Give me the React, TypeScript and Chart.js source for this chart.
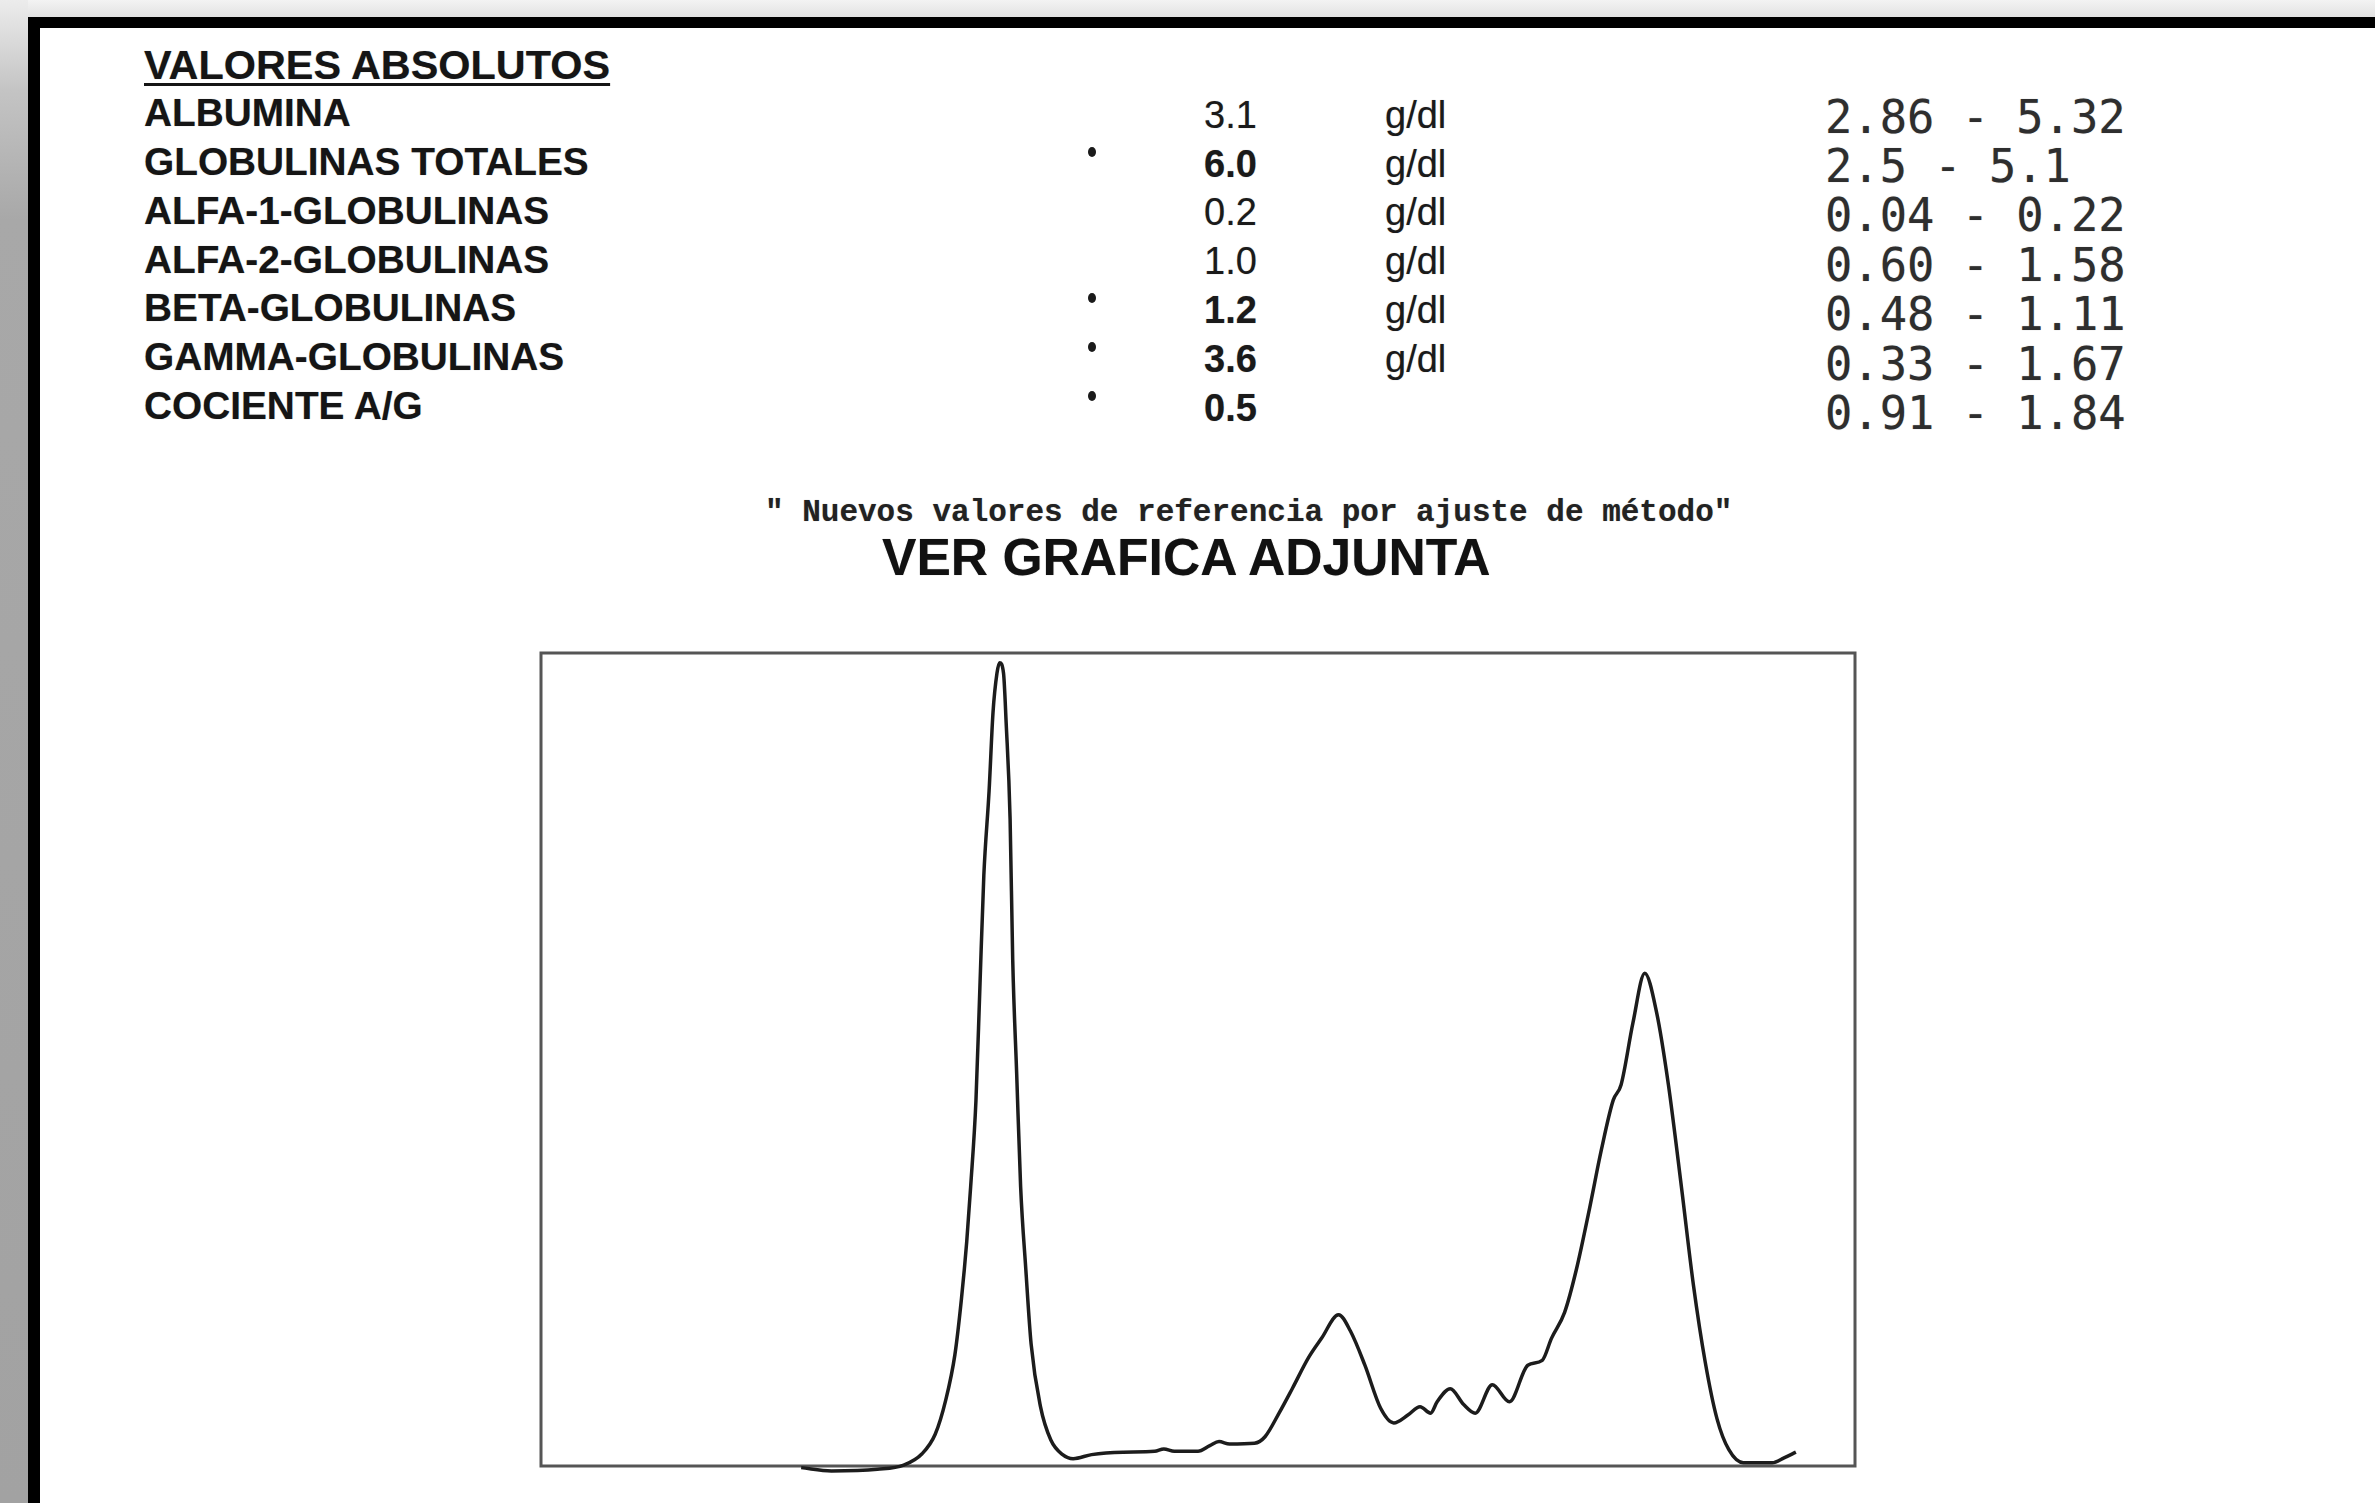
import React, { useEffect, useRef } from "react";
import { Chart, registerables } from "chart.js";

Chart.register(...registerables);

// ---- Report table ----
const analytes = [
  "ALBUMINA",
  "GLOBULINAS TOTALES",
  "ALFA-1-GLOBULINAS",
  "ALFA-2-GLOBULINAS",
  "BETA-GLOBULINAS",
  "GAMMA-GLOBULINAS",
  "COCIENTE A/G",
];
const results = ["3.1", "6.0", "0.2", "1.0", "1.2", "3.6", "0.5"];
const flagged = [false, true, false, false, true, true, true];
const units = ["g/dl", "g/dl", "g/dl", "g/dl", "g/dl", "g/dl", ""];
const referenceRanges = [
  "2.86 - 5.32",
  "2.5 - 5.1",
  "0.04 - 0.22",
  "0.60 - 1.58",
  "0.48 - 1.11",
  "0.33 - 1.67",
  "0.91 - 1.84",
];

// ---- Electrophoresis trace (mobility 0-100, intensity 0-100) ----
const mobility = [
  19.8, 22.1, 25.6, 27.6, 29.0, 30.0, 30.8, 31.5, 32.0, 32.4, 32.7, 33.1, 33.4,
  33.7, 34.1, 34.4, 34.7, 34.9, 35.2, 35.4, 35.7, 35.9, 36.2, 36.5, 36.9, 37.3,
  38.0, 38.8, 39.7, 40.5, 41.9, 44.3, 46.7, 47.4, 48.2, 50.0, 50.9, 51.6, 52.4,
  54.3, 55.1, 56.2, 57.2, 58.4, 59.4, 60.7, 61.6, 62.7, 63.9, 64.9, 66.0, 66.9,
  67.7, 68.2, 69.2, 70.2, 71.1, 72.4, 73.7, 75.1, 76.2, 76.9, 77.9, 78.8, 79.8,
  80.7, 81.6, 82.2, 83.1, 84.0, 84.9, 85.8, 86.8, 87.7, 88.6, 89.5, 90.4, 91.5,
  93.7, 94.6, 95.5,
];
const intensity = [
  -0.2, -0.6, -0.4, 0.1, 1.5, 3.9, 8.1, 13.7, 20.6, 27.6, 34.4, 44.9, 58.8,
  72.6, 83.0, 92.7, 97.5, 98.8, 97.5, 91.4, 79.6, 62.2, 48.3, 34.4, 24.1, 15.0,
  7.4, 3.2, 1.4, 0.9, 1.4, 1.7, 1.8, 2.1, 1.8, 1.8, 2.5, 3.0, 2.7,
  2.8, 3.6, 6.6, 9.6, 13.3, 15.7, 18.6, 16.6, 12.4, 7.1, 5.3, 6.3, 7.3,
  6.5, 7.9, 9.5, 7.6, 6.5, 10.0, 7.9, 12.4, 13.0, 15.7, 18.9, 24.2, 31.7,
  38.9, 45.0, 46.9, 54.5, 60.6, 55.8, 46.9, 34.2, 22.3, 12.8, 5.8, 2.0, 0.4,
  0.4, 1.0, 1.7,
];

const framePlugin = {
  id: "frame",
  beforeDatasetsDraw(chart: any) {
    const { ctx, chartArea } = chart;
    const { left, top, right, bottom } = chartArea;
    ctx.save();
    ctx.strokeStyle = "#555";
    ctx.lineWidth = 3;
    ctx.strokeRect(left, top, right - left, bottom - top);
    ctx.restore();
  },
};

const LABEL_BASE = 127;
const LABEL_STEP = 48.8;
const RANGE_BASE = 133;
const RANGE_STEP = 49.4;

export default function App() {
  const canvasRef = useRef<HTMLCanvasElement | null>(null);

  useEffect(() => {
    document.body.style.margin = "0";
    const canvas = canvasRef.current;
    if (!canvas) return;
    const chart = new Chart(canvas, {
      type: "line",
      data: {
        datasets: [
          {
            data: mobility.map((x, i) => ({ x, y: intensity[i] })),
            borderColor: "#1c1c1c",
            borderWidth: 3.5,
            pointRadius: 0,
            cubicInterpolationMode: "monotone",
            fill: false,
            clip: false as any,
          } as any,
        ],
      },
      options: {
        responsive: false,
        animation: false,
        events: [],
        layout: { padding: 20 },
        plugins: { legend: { display: false }, tooltip: { enabled: false } },
        scales: {
          x: { type: "linear", min: 0, max: 100, display: false },
          y: { type: "linear", min: 0, max: 100, display: false },
        },
      },
      plugins: [framePlugin],
    });
    return () => chart.destroy();
  }, []);

  const sans = "'Liberation Sans', Arial, sans-serif";
  const textShadow = "0 0 1px rgba(0,0,0,0.35)";

  const lineStyle = (left: number, baseline: number, size: number, asc: number, extra: any = {}) => ({
    position: "absolute" as const,
    left,
    top: baseline - asc * size,
    fontSize: size,
    lineHeight: `${size}px`,
    whiteSpace: "nowrap" as const,
    margin: 0,
    ...extra,
  });

  return (
    <div
      style={{
        position: "relative",
        width: 2375,
        height: 1503,
        overflow: "hidden",
        background: "#ffffff",
        fontFamily: sans,
      }}
    >
      <style>{"body{margin:0}"}</style>
      {/* scan surroundings */}
      <div style={{ position: "absolute", left: 0, top: 0, width: 2375, height: 17, background: "linear-gradient(#f3f3f3, #e2e2e2)" }} />
      <div style={{ position: "absolute", left: 0, top: 0, width: 28, height: 1503, background: "linear-gradient(#ececec 0px, #c4c4c4 90px, #a8a8a8 220px, #a2a2a2 100%)" }} />
      <div style={{ position: "absolute", left: 28, top: 17, width: 2347, height: 11, background: "#000" }} />
      <div style={{ position: "absolute", left: 28, top: 17, width: 12, height: 1486, background: "#000" }} />

      {/* heading */}
      <div
        style={lineStyle(144, 80, 41.4, 0.8465, {
          fontWeight: 700,
          color: "#151515",
          textDecoration: "underline",
          textDecorationThickness: "3px",
          textUnderlineOffset: "4px",
          textShadow,
        })}
      >
        VALORES ABSOLUTOS
      </div>

      {analytes.map((name, i) => {
        const b = LABEL_BASE + LABEL_STEP * i;
        return (
          <React.Fragment key={name}>
            <div style={lineStyle(144, b, 38.8, 0.8465, { fontWeight: 700, color: "#151515", textShadow })}>{name}</div>
            {flagged[i] && (
              <div
                style={{
                  position: "absolute",
                  left: 1088,
                  top: b - 29,
                  width: 8,
                  height: 10,
                  borderRadius: "50%",
                  background: "#1a1a1a",
                }}
              />
            )}
            <div
              style={lineStyle(1204, b + 1, 38, 0.8465, {
                fontWeight: flagged[i] ? 700 : 400,
                color: "#1a1a1a",
                textShadow,
              })}
            >
              {results[i]}
            </div>
            {units[i] && (
              <div style={lineStyle(1385, b + 1, 38, 0.8465, { color: "#1a1a1a", textShadow })}>{units[i]}</div>
            )}
          </React.Fragment>
        );
      })}

      {referenceRanges.map((r, i) => (
        <div
          key={r}
          style={lineStyle(1825, RANGE_BASE + RANGE_STEP * i, 45.4, 0.846, {
            fontFamily: "'DejaVu Sans Mono', monospace",
            color: "#2e2e2e",
            whiteSpace: "pre",
            textShadow,
          })}
        >
          {r}
        </div>
      ))}

      <div
        style={lineStyle(765, 521, 31, 0.7665, {
          fontFamily: "'Liberation Mono', 'Courier New', monospace",
          fontWeight: 700,
          color: "#222",
          whiteSpace: "pre",
          textShadow,
        })}
      >
        {'" Nuevos valores de referencia por ajuste de método"'}
      </div>

      <div style={lineStyle(882, 576, 51.6, 0.8465, { fontWeight: 700, color: "#111", textShadow })}>
        VER GRAFICA ADJUNTA
      </div>

      <canvas
        ref={canvasRef}
        width={1354}
        height={853}
        style={{ position: "absolute", left: 521, top: 633, width: 1354, height: 853 }}
      />
    </div>
  );
}
